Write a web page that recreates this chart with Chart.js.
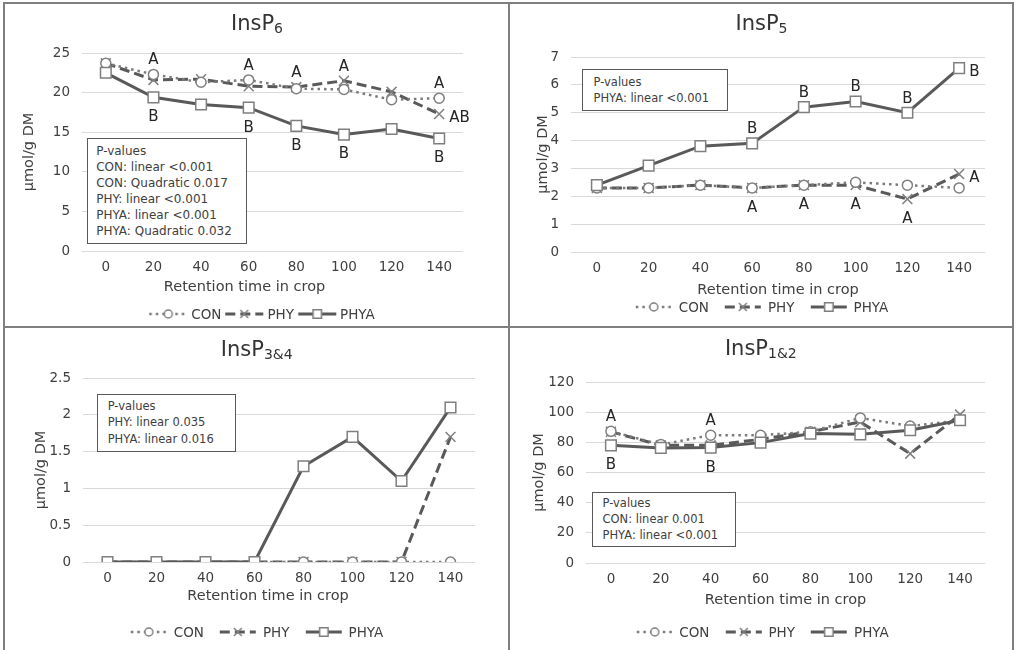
<!DOCTYPE html>
<html>
<head>
<meta charset="utf-8">
<script src="https://cdn.jsdelivr.net/npm/chart.js@4.4.1/dist/chart.umd.min.js"></script>
<style>
  html, body { margin: 0; padding: 0; background: #fff; }
  body { width: 1016px; height: 650px; position: relative; overflow: hidden;
         font-family: 'DejaVu Sans', Verdana, sans-serif; color: #404040; }
  .frame { position: absolute; left: 3px; top: 2px; width: 1011px; height: 652px;
           border: 2px solid #7f7f7f; box-sizing: border-box; }
  .vdiv { position: absolute; left: 508px; top: 2px; width: 2px; height: 650px; background: #7f7f7f; }
  .hdiv { position: absolute; left: 3px; top: 326px; width: 1011px; height: 2px; background: #7f7f7f; }
  canvas.chart { position: absolute; display: block; }
  .title { position: absolute; font-size: 21px; line-height: 21px; color: #333;
           transform: translateX(-50%); white-space: nowrap; }
  .title sub { font-size: 14px; vertical-align: -3px; line-height: 0; }
  .pbox { position: absolute; box-sizing: border-box; border: 1.5px solid #595959;
          background: #fff; white-space: nowrap; color: #404040; }
  .legend { position: absolute; display: flex; align-items: center; transform: translate(-50%, -50%);
            font-size: 13.5px; white-space: nowrap; color: #404040; }
  .legend canvas { display: block; }
</style>
</head>
<body>
<div class="frame"></div>
<div class="vdiv"></div>
<div class="hdiv"></div>
<script>
// ===== DATA =====
const retentionTimes = ['0', '20', '40', '60', '80', '100', '120', '140'];
const seriesNames = ['CON', 'PHY', 'PHYA'];
const xTitle = 'Retention time in crop';
const yTitle = 'µmol/g DM';

// InsP6
const insp6YTicks = [0, 5, 10, 15, 20, 25];
const insp6Con  = [23.7, 22.3, 21.3, 21.6, 20.5, 20.4, 19.1, 19.3];
const insp6Phy  = [23.7, 21.6, 21.7, 20.8, 20.7, 21.5, 20.1, 17.3];
const insp6Phya = [22.5, 19.4, 18.5, 18.1, 15.8, 14.7, 15.4, 14.2];
const insp6ConLetters  = ['', 'A', '', 'A', 'A', 'A', '', 'A'];
const insp6PhyLetters  = ['', '', '', '', '', '', '', 'AB'];
const insp6PhyaLetters = ['', 'B', '', 'B', 'B', 'B', '', 'B'];
const insp6PValues = ['P-values', 'CON: linear <0.001', 'CON: Quadratic 0.017',
  'PHY: linear <0.001', 'PHYA: linear <0.001', 'PHYA: Quadratic 0.032'];

// InsP5
const insp5YTicks = [0, 1, 2, 3, 4, 5, 6, 7];
const insp5Con  = [2.3, 2.3, 2.4, 2.3, 2.4, 2.5, 2.4, 2.3];
const insp5Phy  = [2.3, 2.3, 2.4, 2.3, 2.4, 2.4, 1.9, 2.8];
const insp5Phya = [2.4, 3.1, 3.8, 3.9, 5.2, 5.4, 5.0, 6.6];
const insp5ConLetters  = ['', '', '', '', '', '', '', ''];
const insp5PhyLetters  = ['', '', '', 'A', 'A', 'A', 'A', 'A'];
const insp5PhyaLetters = ['', '', '', 'B', 'B', 'B', 'B', 'B'];
const insp5PValues = ['P-values', 'PHYA: linear <0.001'];

// InsP3&4
const insp34YTicks = [0, 0.5, 1, 1.5, 2, 2.5];
const insp34Con  = [0, 0, 0, 0, 0, 0, 0, 0];
const insp34Phy  = [0, 0, 0, 0, 0, 0, 0, 1.7];
const insp34Phya = [0, 0, 0, 0, 1.3, 1.7, 1.1, 2.1];
const insp34PValues = ['P-values', 'PHY: linear 0.035', 'PHYA: linear 0.016'];

// InsP1&2
const insp12YTicks = [0, 20, 40, 60, 80, 100, 120];
const insp12Con  = [87.3, 78.5, 84.7, 84.7, 87, 96.2, 90.8, 94.6];
const insp12Phy  = [87, 78, 78, 82, 87, 93.5, 72.5, 98.4];
const insp12Phya = [78, 76.3, 76.5, 79.8, 85.8, 85.3, 88, 94.6];
const insp12ConLetters  = ['A', '', 'A', '', '', '', '', ''];
const insp12PhyaLetters = ['B', '', 'B', '', '', '', '', ''];
const insp12PValues = ['P-values', 'CON: linear 0.001', 'PHYA: linear <0.001'];

const noLetters = ['', '', '', '', '', '', '', ''];

// ===== STYLES =====
const FONT = "'DejaVu Sans', Verdana, sans-serif";
const seriesStyles = [
  { color: '#7a7a7a', width: 2.5, dash: [2.5, 4], point: 'circle',   radius: 5,   order: 1 },
  { color: '#595959', width: 3,   dash: [10, 5],  point: 'crossRot', radius: 7,   order: 2 },
  { color: '#595959', width: 3,   dash: [],       point: 'rect',     radius: 7.5, order: 0 },
];

const panels = [
  {
    title: 'InsP', sub: '6', titleAt: [257, 12.9],
    canvas: [5, 4, 503, 322], pad: { left: 15.6, right: 45, top: 49, bottom: 31 }, yWidth: 61.4, xHeight: 44,
    xTitleAt: [-28, 36],
    yTicks: insp6YTicks, series: [insp6Con, insp6Phy, insp6Phya],
    letters: [insp6ConLetters, insp6PhyLetters, insp6PhyaLetters], place: ['above', 'right', 'below'], endRight: false,
    pvalues: insp6PValues,
    pbox: { left: 86.7, top: 137.7, width: 160, height: 106.3, font: 12, line: 16, padTop: 4.5, padLeft: 8.5 },
    legend: { x: 262, y: 314, symbol: 38, gapIn: 4, gapOut: 4 },
  },
  {
    title: 'InsP', sub: '5', titleAt: [761.5, 12.9],
    canvas: [510, 4, 502, 322], pad: { left: 24.3, right: 27, top: 53, bottom: 28 }, yWidth: 36.7, xHeight: 46,
    xTitleAt: [0, 38],
    yTicks: insp5YTicks, series: [insp5Con, insp5Phy, insp5Phya],
    letters: [insp5ConLetters, insp5PhyLetters, insp5PhyaLetters], place: ['above', 'below', 'above'], endRight: true,
    pvalues: insp5PValues,
    pbox: { left: 582, top: 69.3, width: 146, height: 41.7, font: 11.5, line: 16.3, padTop: 3.9, padLeft: 10.5 },
    legend: { x: 762, y: 307, symbol: 36, gapIn: 7, gapOut: 16 },
  },
  {
    title: 'InsP', sub: '3&4', titleAt: [256.7, 338.9],
    canvas: [5, 328, 503, 321], pad: { left: 28, right: 33, top: 50, bottom: 45 }, yWidth: 50, xHeight: 42,
    xTitleAt: [-11, 34.5],
    yTicks: insp34YTicks, series: [insp34Con, insp34Phy, insp34Phya],
    letters: [noLetters, noLetters, noLetters], place: ['above', 'right', 'below'], endRight: false,
    pvalues: insp34PValues,
    pbox: { left: 96.7, top: 394, width: 139, height: 57.7, font: 11.5, line: 16.3, padTop: 3.2, padLeft: 10 },
    legend: { x: 257, y: 632, symbol: 36, gapIn: 7, gapOut: 16 },
  },
  {
    title: 'InsP', sub: '1&2', titleAt: [760.8, 337.9],
    canvas: [510, 328, 502, 321], pad: { left: 21, right: 27, top: 54, bottom: 41 }, yWidth: 55, xHeight: 45,
    xTitleAt: [0, 37],
    yTicks: insp12YTicks, series: [insp12Con, insp12Phy, insp12Phya],
    letters: [insp12ConLetters, noLetters, insp12PhyaLetters], place: ['above', 'right', 'below'], endRight: false,
    pvalues: insp12PValues,
    pbox: { left: 592, top: 491.7, width: 144, height: 55, font: 11.5, line: 15.8, padTop: 3.8, padLeft: 9.5 },
    legend: { x: 762.5, y: 632, symbol: 36, gapIn: 7, gapOut: 16 },
  },
];

Chart.defaults.font.family = FONT;
Chart.defaults.font.size = 13.5;
Chart.defaults.color = '#404040';
Chart.defaults.animation = false;

// ===== HELPERS =====
function drawMarker(ctx, style, x, y, r) {
  const h = r * Math.SQRT1_2;
  ctx.beginPath();
  if (style === 'circle') {
    ctx.arc(x, y, r, 0, Math.PI * 2);
  } else if (style === 'rect') {
    ctx.rect(x - h, y - h, 2 * h, 2 * h);
  } else {
    ctx.moveTo(x - h, y - h); ctx.lineTo(x + h, y + h);
    ctx.moveTo(x + h, y - h); ctx.lineTo(x - h, y + h);
  }
  if (style !== 'crossRot') ctx.fill();
  ctx.stroke();
}

function legendSymbol(st, w) {
  const c = document.createElement('canvas');
  c.width = w; c.height = 16;
  const ctx = c.getContext('2d');
  ctx.strokeStyle = st.color;
  ctx.lineWidth = st.width;
  ctx.setLineDash(st.dash);
  ctx.beginPath(); ctx.moveTo(0, 8); ctx.lineTo(w, 8); ctx.stroke();
  ctx.setLineDash([]);
  ctx.fillStyle = '#fff';
  ctx.strokeStyle = '#7f7f7f';
  ctx.lineWidth = 1.5;
  drawMarker(ctx, st.point, w / 2, 8, st.radius * 0.8);
  return c;
}

// letters of significance and the x axis title, drawn on the chart canvas
function annotationPlugin(p) {
  return {
    id: 'annotations',
    afterDatasetsDraw(chart) {
      const { ctx, chartArea } = chart;
      const xs = chart.scales.x, ys = chart.scales.y;
      ctx.save();
      ctx.textBaseline = 'middle';

      ctx.font = '14.5px ' + FONT;
      ctx.fillStyle = '#404040';
      ctx.textAlign = 'center';
      ctx.fillText(xTitle, (chartArea.left + chartArea.right) / 2 + p.xTitleAt[0], chartArea.bottom + p.xTitleAt[1]);

      ctx.font = '15px ' + FONT;
      ctx.fillStyle = '#262626';
      p.letters.forEach((letters, s) => {
        letters.forEach((txt, i) => {
          if (!txt) return;
          const vals = p.series.map(d => d[i]);
          const where = (p.endRight && i === letters.length - 1) ? 'right' : p.place[s];
          const px = xs.getPixelForValue(i);
          if (where === 'above') {
            ctx.textAlign = 'center';
            ctx.fillText(txt, px, ys.getPixelForValue(Math.max(...vals)) - 14);
          } else if (where === 'below') {
            ctx.textAlign = 'center';
            ctx.fillText(txt, px, ys.getPixelForValue(Math.min(...vals)) + 20);
          } else {
            ctx.textAlign = 'left';
            ctx.fillText(txt, px + 10, ys.getPixelForValue(p.series[s][i]) + 4);
          }
        });
      });
      ctx.restore();
    }
  };
}

// ===== BUILD =====
panels.forEach((p, k) => {
  const [cx, cy, cw, ch] = p.canvas;
  const canvas = document.createElement('canvas');
  canvas.className = 'chart';
  canvas.id = 'chart' + k;
  canvas.width = cw; canvas.height = ch;
  canvas.style.left = cx + 'px'; canvas.style.top = cy + 'px';
  canvas.style.width = cw + 'px'; canvas.style.height = ch + 'px';
  document.body.appendChild(canvas);

  const t = document.createElement('div');
  t.className = 'title';
  t.style.left = p.titleAt[0] + 'px'; t.style.top = p.titleAt[1] + 'px';
  t.innerHTML = p.title + '<sub>' + p.sub.replace('&', '&amp;') + '</sub>';
  document.body.appendChild(t);

  const b = document.createElement('div');
  b.className = 'pbox';
  const pb = p.pbox;
  Object.assign(b.style, {
    left: pb.left + 'px', top: pb.top + 'px', width: pb.width + 'px', height: pb.height + 'px',
    fontSize: pb.font + 'px', lineHeight: pb.line + 'px', paddingTop: pb.padTop + 'px', paddingLeft: pb.padLeft + 'px'
  });
  p.pvalues.forEach(line => {
    const d = document.createElement('div');
    d.textContent = line;
    b.appendChild(d);
  });
  document.body.appendChild(b);

  const lg = document.createElement('div');
  lg.className = 'legend';
  lg.style.left = p.legend.x + 'px'; lg.style.top = p.legend.y + 'px';
  seriesNames.forEach((name, s) => {
    const sym = legendSymbol(seriesStyles[s], p.legend.symbol);
    sym.style.marginRight = p.legend.gapIn + 'px';
    if (s > 0) sym.style.marginLeft = p.legend.gapOut + 'px';
    lg.appendChild(sym);
    const sp = document.createElement('span');
    sp.textContent = name;
    lg.appendChild(sp);
  });
  document.body.appendChild(lg);

  const yt = p.yTicks;
  new Chart(canvas, {
    type: 'line',
    data: {
      labels: retentionTimes,
      datasets: p.series.map((data, s) => {
        const st = seriesStyles[s];
        return {
          label: seriesNames[s],
          data,
          order: st.order,
          borderColor: st.color,
          borderWidth: st.width,
          borderDash: st.dash,
          tension: 0,
          fill: false,
          pointStyle: st.point,
          pointRadius: st.radius,
          pointBorderColor: '#7f7f7f',
          pointBackgroundColor: '#fff',
          pointBorderWidth: 1.5,
        };
      })
    },
    options: {
      responsive: false,
      layout: { padding: p.pad },
      plugins: {
        legend: { display: false },
        tooltip: { enabled: false },
      },
      scales: {
        x: {
          offset: true,
          grid: { display: false, drawTicks: false },
          border: { display: false },
          ticks: { padding: 8, color: '#404040', maxRotation: 0 },
          afterFit: sc => { sc.height = p.xHeight; },
        },
        y: {
          min: yt[0],
          max: yt[yt.length - 1],
          grid: { color: '#d9d9d9', lineWidth: 1, drawTicks: false },
          border: { display: false },
          ticks: { stepSize: yt[1] - yt[0], padding: 12, color: '#404040', callback: v => String(v) },
          title: { display: true, text: yTitle, color: '#404040', padding: 0, font: { size: 14.5 } },
          afterFit: sc => { sc.width = p.yWidth; },
        }
      }
    },
    plugins: [annotationPlugin(p)]
  });
});
</script>
</body>
</html>
